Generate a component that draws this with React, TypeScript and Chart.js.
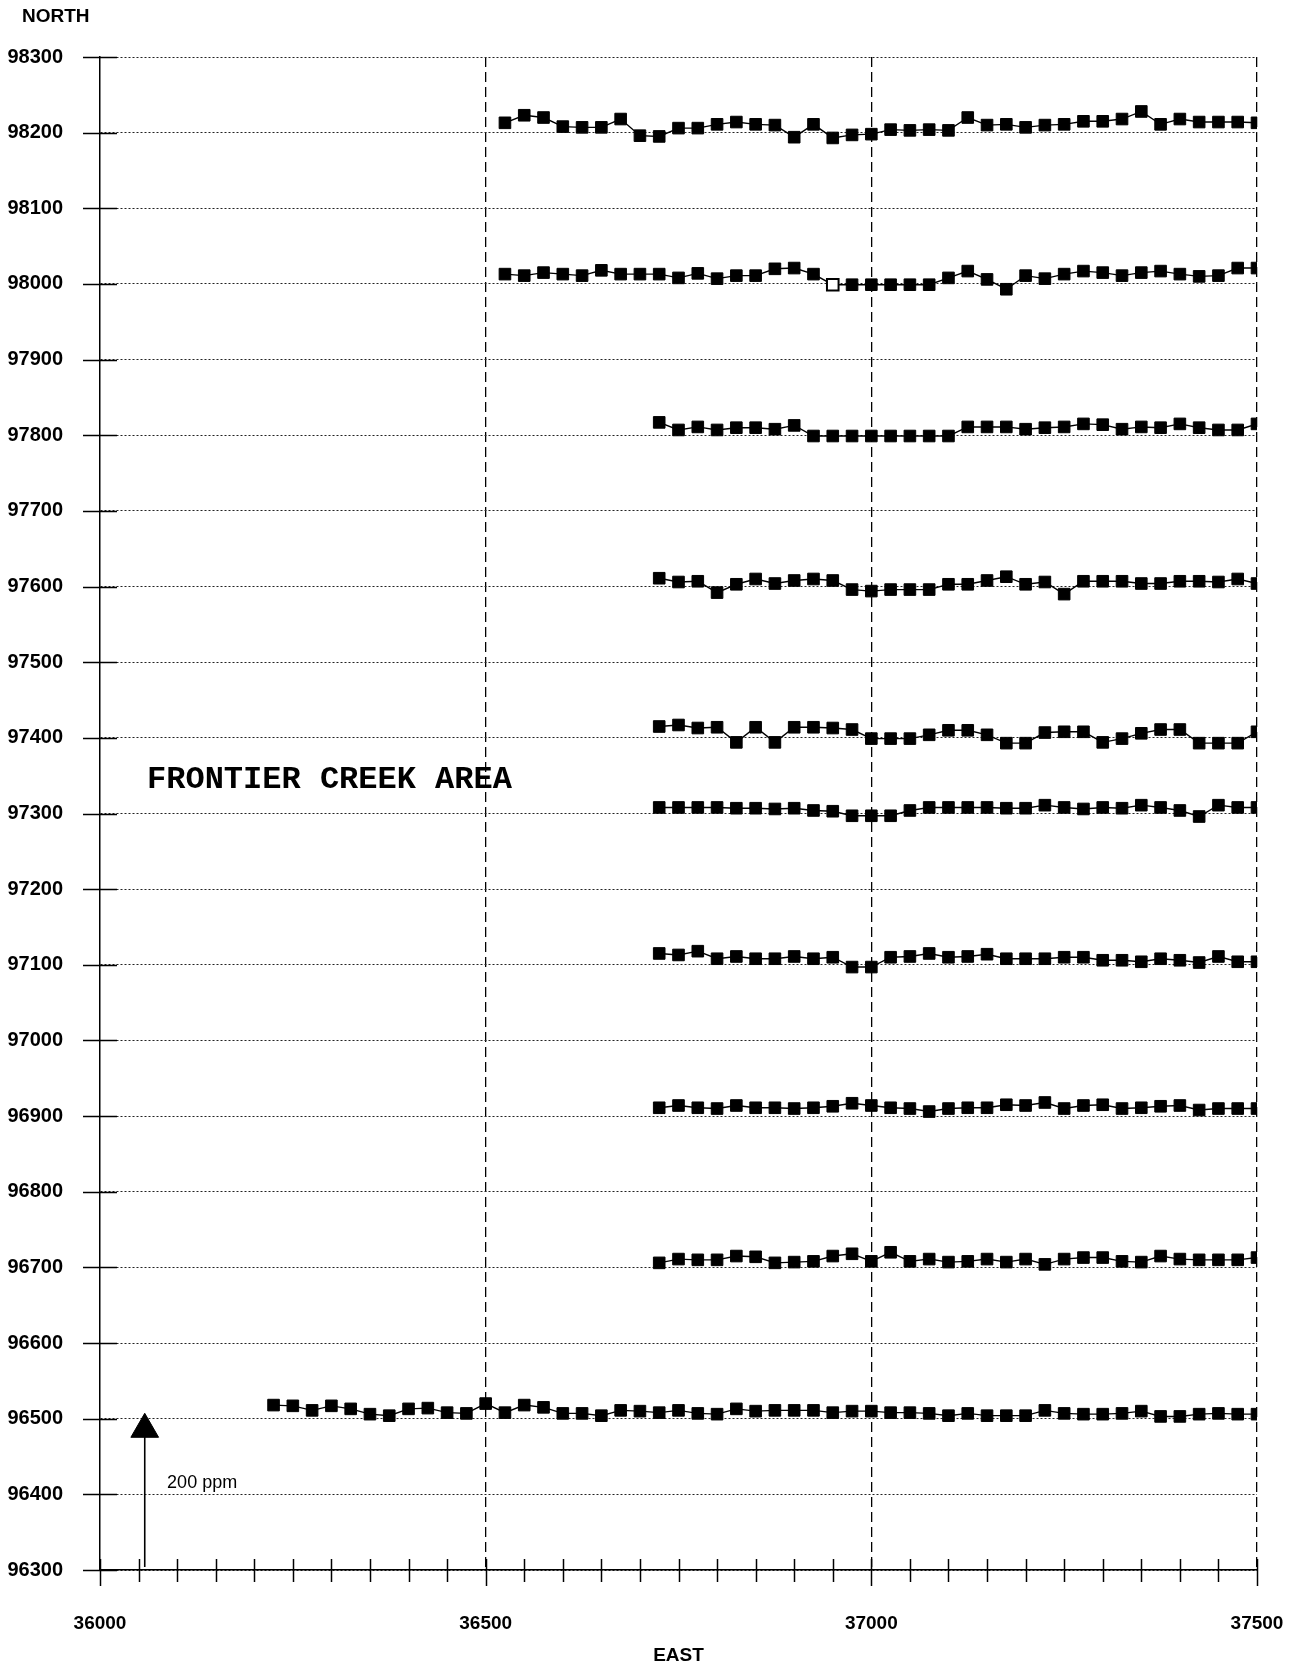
import React, { useEffect, useRef } from 'react';
import { Chart, registerables } from 'chart.js';

Chart.register(...registerables);

// Station eastings (25 m spacing)
const EASTINGS = [
  36225, 36250, 36275, 36300, 36325, 36350, 36375, 36400, 36425, 36450, 36475, 36500,
  36525, 36550, 36575, 36600, 36625, 36650, 36675, 36700,
  36725, 36750, 36775, 36800, 36825, 36850, 36875, 36900, 36925, 36950, 36975, 37000,
  37025, 37050, 37075, 37100, 37125, 37150, 37175, 37200, 37225, 37250, 37275, 37300,
  37325, 37350, 37375, 37400, 37425, 37450, 37475, 37500,
];

// Profile values (northing + ppm offset)
const LINE_98200 = [
  98213, 98223, 98220, 98208, 98207, 98207, 98218, 98196, 98195, 98206, 98206, 98211,
  98214, 98211, 98210, 98194, 98211, 98193, 98197, 98198, 98204, 98203, 98204, 98203,
  98220, 98210, 98211, 98207, 98210, 98211, 98215, 98215, 98218, 98228, 98211, 98218,
  98214, 98214, 98214, 98213,
];
const LINE_98000 = [
  98013, 98011, 98015, 98013, 98011, 98018, 98013, 98013, 98013, 98008, 98014, 98007,
  98011, 98011, 98020, 98021, 98013, 97999, 97999, 97999, 97999, 97999, 97999, 98008,
  98017, 98006, 97993, 98011, 98007, 98013, 98017, 98015, 98011, 98015, 98017, 98013,
  98010, 98011, 98021, 98021,
];
const LINE_97800 = [
  97817, 97807, 97811, 97807, 97810, 97810, 97808, 97813, 97799, 97799, 97799, 97799,
  97799, 97799, 97799, 97799, 97811, 97811, 97811, 97808, 97810, 97811, 97815, 97814,
  97808, 97811, 97810, 97815, 97810, 97807, 97807, 97815,
];
const LINE_97600 = [
  97611, 97606, 97607, 97592, 97603, 97610, 97604, 97608, 97610, 97608, 97596, 97594,
  97596, 97596, 97596, 97603, 97603, 97608, 97613, 97603, 97606, 97590, 97607, 97607,
  97607, 97604, 97604, 97607, 97607, 97606, 97610, 97604,
];
const LINE_97400 = [
  97415, 97417, 97413, 97414, 97394, 97414, 97394, 97414, 97414, 97413, 97411, 97399,
  97399, 97399, 97404, 97410, 97410, 97404, 97393, 97393, 97407, 97408, 97408, 97394,
  97399, 97406, 97411, 97411, 97393, 97393, 97393, 97408,
];
const LINE_97300 = [
  97308, 97308, 97308, 97308, 97307, 97307, 97306, 97307, 97304, 97303, 97297, 97297,
  97297, 97304, 97308, 97308, 97308, 97308, 97307, 97307, 97311, 97308, 97306, 97308,
  97307, 97311, 97308, 97304, 97296, 97311, 97308, 97308,
];
const LINE_97100 = [
  97115, 97113, 97118, 97108, 97111, 97108, 97108, 97111, 97108, 97110, 97097, 97097,
  97110, 97111, 97115, 97110, 97111, 97114, 97108, 97108, 97108, 97110, 97110, 97106,
  97106, 97104, 97108, 97106, 97103, 97111, 97104, 97104,
];
const LINE_96900 = [
  96911, 96914, 96911, 96910, 96914, 96911, 96911, 96910, 96911, 96913, 96917, 96914,
  96911, 96910, 96906, 96910, 96911, 96911, 96915, 96914, 96918, 96910, 96914, 96915,
  96910, 96911, 96913, 96914, 96908, 96910, 96910, 96910,
];
const LINE_96700 = [
  96706, 96711, 96710, 96710, 96715, 96714, 96706, 96707, 96708, 96715, 96718, 96708,
  96720, 96708, 96711, 96707, 96708, 96711, 96707, 96711, 96704, 96711, 96713, 96713,
  96708, 96707, 96715, 96711, 96710, 96710, 96710, 96713,
];
const LINE_96500 = [
  96518, 96517, 96511, 96517, 96513, 96506, 96504, 96513, 96514, 96508, 96507, 96520,
  96508, 96518, 96515, 96507, 96507, 96504, 96511, 96510, 96508, 96511, 96507, 96506,
  96513, 96510, 96511, 96511, 96511, 96508, 96510, 96510, 96508, 96508, 96507, 96504,
  96507, 96504, 96504, 96504, 96511, 96507, 96506, 96506, 96507, 96510, 96503, 96503,
  96506, 96507, 96506, 96506,
];

const PROFILES = [
  { values: LINE_98200, start: 36525 },
  { values: LINE_98000, start: 36525, hollowAt: 36950 },
  { values: LINE_97800, start: 36725 },
  { values: LINE_97600, start: 36725 },
  { values: LINE_97400, start: 36725 },
  { values: LINE_97300, start: 36725 },
  { values: LINE_97100, start: 36725 },
  { values: LINE_96900, start: 36725 },
  { values: LINE_96700, start: 36725 },
  { values: LINE_96500, start: 36225 },
];

const X_MIN = 36000;
const X_MAX = 37500;
const X_STEP = 50;
const X_LABELS = [36000, 36500, 37000, 37500];
const Y_MIN = 96300;
const Y_MAX = 98300;
const Y_STEP = 100;

// Scale arrow (200 ppm)
const ARROW_X = [36058, 36058];
const ARROW_Y = [96304, 96486];

const LABEL_FONT = '"Liberation Sans", Arial, sans-serif';

const overlayPlugin = {
  id: 'overlay',
  afterDraw(chart: any) {
    const { ctx, chartArea, scales } = chart;
    const xs = scales.x;
    const ys = scales.y;
    ctx.save();
    ctx.strokeStyle = '#000';
    ctx.lineWidth = 1.5;
    ctx.setLineDash([]);
    // y tick crosses
    ys.ticks.forEach((t: any) => {
      const y = Math.round(ys.getPixelForValue(t.value)) + 0.5;
      ctx.beginPath();
      ctx.moveTo(chartArea.left - 17, y);
      ctx.lineTo(chartArea.left + 17, y);
      ctx.stroke();
    });
    // x tick crosses
    xs.ticks.forEach((t: any) => {
      const x = Math.round(xs.getPixelForValue(t.value)) + 0.5;
      const major = t.value % 500 === 0;
      ctx.beginPath();
      ctx.moveTo(x, chartArea.bottom - 11);
      ctx.lineTo(x, chartArea.bottom + (major ? 16 : 12));
      ctx.stroke();
    });
    ctx.fillStyle = '#000';
    ctx.textBaseline = 'alphabetic';
    ctx.textAlign = 'left';
    ctx.font = `bold 19px ${LABEL_FONT}`;
    ctx.fillText('NORTH', 22, 22);
    ctx.textAlign = 'center';
    ctx.fillText('EAST', (chartArea.left + chartArea.right) / 2, 1661);
    ctx.textAlign = 'left';
    ctx.textBaseline = 'middle';
    ctx.font = `18px ${LABEL_FONT}`;
    ctx.fillText('200 ppm', xs.getPixelForValue(36087), ys.getPixelForValue(96415));
    ctx.font = 'bold 32px "Courier New", "Liberation Mono", monospace';
    ctx.fillText('FRONTIER CREEK AREA', xs.getPixelForValue(36061), ys.getPixelForValue(97345));
    ctx.restore();
  },
};

export default function App() {
  const ref = useRef<HTMLCanvasElement | null>(null);

  useEffect(() => {
    if (!ref.current) return;
    const datasets: any[] = PROFILES.map((p) => {
      const startIdx = EASTINGS.indexOf(p.start);
      const xs = EASTINGS.slice(startIdx, startIdx + p.values.length);
      return {
        data: p.values.map((v, i) => ({ x: xs[i], y: v })),
        borderColor: '#000',
        borderWidth: 1.4,
        pointStyle: 'rect',
        pointRadius: 8.2,
        pointBorderWidth: xs.map((x) => (x === p.hollowAt ? 2 : 1)),
        pointBackgroundColor: xs.map((x) => (x === p.hollowAt ? '#fff' : '#000')),
        pointBorderColor: '#000',
        tension: 0,
        fill: false,
      };
    });
    datasets.push({
      data: ARROW_X.map((x, i) => ({ x, y: ARROW_Y[i] })),
      borderColor: '#000',
      borderWidth: 1.6,
      pointStyle: 'triangle',
      pointRadius: [0, 16],
      pointBackgroundColor: '#000',
      pointBorderColor: '#000',
      pointBorderWidth: 1,
      fill: false,
    });

    const chart = new Chart(ref.current, {
      type: 'line',
      data: { datasets },
      plugins: [overlayPlugin],
      options: {
        responsive: false,
        animation: false,
        layout: { padding: { top: 57, right: 45, left: 0, bottom: 0 } },
        plugins: { legend: { display: false }, tooltip: { enabled: false } },
        scales: {
          x: {
            type: 'linear',
            position: 'bottom',
            min: X_MIN,
            max: X_MAX,
            afterFit: (s: any) => { s.height = 96; },
            ticks: {
              stepSize: X_STEP,
              autoSkip: false,
              maxRotation: 0,
              minRotation: 0,
              padding: 3,
              color: '#000',
              font: { family: LABEL_FONT, size: 19, weight: 'bold' },
              callback: (v: any) => (X_LABELS.includes(Number(v)) ? String(v) : ''),
            },
            grid: {
              drawTicks: true,
              tickLength: 39,
              tickColor: 'rgba(0,0,0,0)',
              lineWidth: 1.3,
              color: (c: any) =>
                c.tick && c.tick.value % 500 === 0 && c.tick.value !== X_MIN ? '#000' : 'rgba(0,0,0,0)',
            },
            border: { display: true, color: '#000', width: 1.5, dash: [10, 5] },
          },
          y: {
            type: 'linear',
            position: 'left',
            min: Y_MIN,
            max: Y_MAX,
            afterFit: (s: any) => { s.width = 100; },
            ticks: {
              stepSize: Y_STEP,
              autoSkip: false,
              padding: 37,
              color: '#000',
              font: { family: LABEL_FONT, size: 20, weight: 'bold' },
              callback: (v: any) => String(v),
            },
            grid: { drawTicks: false, lineWidth: 1, color: '#222' },
            border: { display: true, color: '#000', width: 1.5, dash: [2, 2] },
          },
        },
      } as any,
    });
    return () => chart.destroy();
  }, []);

  return (
    <div style={{ position: 'absolute', left: 0, top: 0, width: 1302, height: 1666, background: '#fff' }}>
      <canvas ref={ref} width={1302} height={1666} />
    </div>
  );
}
